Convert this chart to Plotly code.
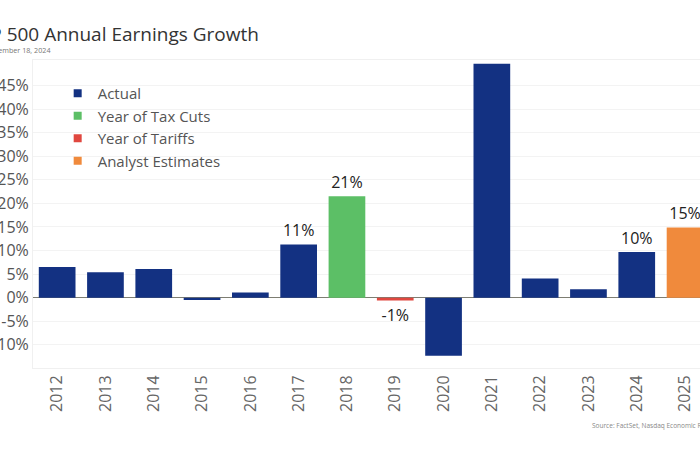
import plotly.graph_objects as go

years = ["2012", "2013", "2014", "2015", "2016", "2017", "2018",
         "2019", "2020", "2021", "2022", "2023", "2024", "2025"]
growth = [6.5, 5.4, 6.1, -0.5, 1.1, 11.3, 21.5, -0.6, -12.3, 49.6, 4.1, 1.8, 9.7, 14.9]
category = ["Actual", "Actual", "Actual", "Actual", "Actual", "Actual", "Year of Tax Cuts",
            "Year of Tariffs", "Actual", "Actual", "Actual", "Actual", "Actual", "Analyst Estimates"]
labels = ["", "", "", "", "", "11%", "21%", "-1%", "", "", "", "", "10%", "15%"]
y_ticks = [-10, -5, 0, 5, 10, 15, 20, 25, 30, 35, 40, 45]

series_names = ["Actual", "Year of Tax Cuts", "Year of Tariffs", "Analyst Estimates"]
series_colors = {"Actual": "#133182", "Year of Tax Cuts": "#5cbf66",
                 "Year of Tariffs": "#e0473f", "Analyst Estimates": "#f08a3c"}

W, H = 700, 450
ML, MR, MT, MB = 33, 0, 60, 82
FONT = "Open Sans"

fig = go.Figure()
for name in series_names:
    xs = [y for y, c in zip(years, category) if c == name]
    vs = [v for v, c in zip(growth, category) if c == name]
    ts = [t for t, c in zip(labels, category) if c == name]
    fig.add_trace(go.Bar(
        x=xs, y=vs, text=ts, textposition="outside", texttemplate="%{text}",
        textfont=dict(size=16, color="#222222", family=FONT),
        marker=dict(color=series_colors[name], line=dict(width=0)),
        cliponaxis=False, constraintext="none", showlegend=False, name=name,
    ))
# legend-only markers (small squares like the reference)
for name in series_names:
    fig.add_trace(go.Scatter(
        x=[None], y=[None], mode="markers", name=name,
        marker=dict(symbol="square", size=8, color=series_colors[name]),
    ))

plot_w = W - ML - MR
unit = 48.3
fig.update_layout(
    width=W, height=H,
    margin=dict(l=ML, r=MR, t=MT, b=MB, pad=0),
    paper_bgcolor="white", plot_bgcolor="white",
    bargap=0.24,
    font=dict(family=FONT, color="#555555"),
    legend=dict(x=0.037, y=0.945, xanchor="left", yanchor="top",
                font=dict(size=15, color="#555555", family=FONT),
                bgcolor="rgba(0,0,0,0)", itemwidth=30, tracegroupgap=0),
    xaxis=dict(type="category", categoryorder="array", categoryarray=years,
               range=[-0.5, -0.5 + plot_w / unit], tickangle=-90,
               tickfont=dict(size=16, color="#666666", family=FONT),
               showgrid=False, showline=True, linecolor="#f0f0f0", mirror=True,
               ticks="", fixedrange=True),
    yaxis=dict(range=[-14.9, 50.4], tickmode="array", tickvals=y_ticks,
               ticktext=[f"{v}%" for v in y_ticks],
               tickfont=dict(size=16, color="#555555", family=FONT),
               showgrid=True, gridcolor="#f3f3f3", gridwidth=1,
               zeroline=True, zerolinecolor="#7d7d72", zerolinewidth=1,
               showline=True, linecolor="#f0f0f0", mirror=True, ticks="",
               automargin=False),
    showlegend=True,
)

def px_x(p):
    return (p - ML) / plot_w

def px_y(p):
    return (H - MB - p) / (H - MT - MB)

fig.add_annotation(text="S&P 500 Annual Earnings Growth", xref="paper", yref="paper",
                   x=px_x(261), y=px_y(34), xanchor="right", yanchor="middle",
                   showarrow=False, font=dict(size=19, color="#333333", family=FONT))
fig.add_annotation(text="Data as of December 18, 2024", xref="paper", yref="paper",
                   x=px_x(53), y=px_y(50), xanchor="right", yanchor="middle",
                   showarrow=False, font=dict(size=7.2, color="#777777", family=FONT))
fig.add_annotation(text="Source: FactSet, Nasdaq Economic Research", xref="paper", yref="paper",
                   x=px_x(590), y=px_y(425), xanchor="left", yanchor="middle",
                   showarrow=False, font=dict(size=6.5, color="#888888", family=FONT))

fig.write_html("out.html", config={"displayModeBar": False},
               post_script="document.body.style.margin='0';document.body.style.overflow='hidden';")
